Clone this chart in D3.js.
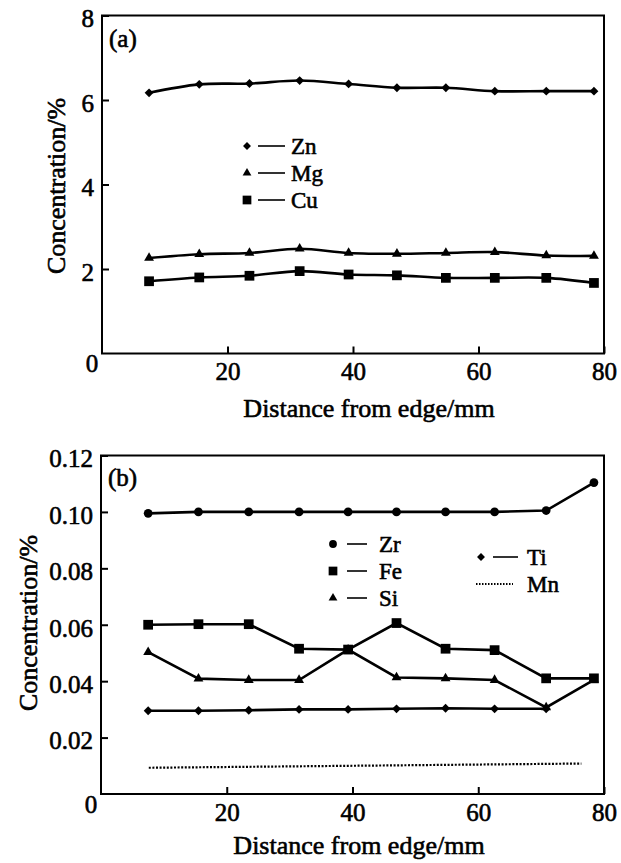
<!DOCTYPE html>
<html>
<head>
<meta charset="utf-8">
<script src="https://cdn.jsdelivr.net/npm/d3@7"></script>
<style>
  body { margin: 0; background: #fff; }
</style>
</head>
<body>
<svg id="chart" width="621" height="863"></svg>
<script>
// distance from edge (mm) of the sampling points
const dist = [7.5, 15.5, 23.5, 31.5, 39.3, 47, 54.8, 62.6, 70.8, 78.4];

// panel (a) main elements, %
const zn = [6.17, 6.37, 6.39, 6.46, 6.38, 6.29, 6.29, 6.21, 6.21, 6.21];
const mg = [2.26, 2.35, 2.38, 2.48, 2.38, 2.36, 2.38, 2.40, 2.32, 2.31];
const cu = [1.71, 1.80, 1.84, 1.95, 1.87, 1.85, 1.79, 1.79, 1.79, 1.67];

// panel (b) minor elements, %
const zr = [0.0995, 0.1, 0.1, 0.1, 0.1, 0.1, 0.1, 0.1, 0.1005, 0.1104];
const fe = [0.0600, 0.0602, 0.0602, 0.0515, 0.0512, 0.0606, 0.0515, 0.0510, 0.0410, 0.0410];
const si = [0.0503, 0.0409, 0.0404, 0.0404, 0.0512, 0.0413, 0.0410, 0.0404, 0.0307, 0.0405];
const ti = [0.0295, 0.0295, 0.0297, 0.0300, 0.0300, 0.0302, 0.0304, 0.0302, 0.0302, null];
const mnDist = [7.6, 76.4];
const mn = [0.0093, 0.0108];

const xTicks = [20, 40, 60, 80];
const yTicksA = [2, 4, 6, 8];
const yTicksB = [0.02, 0.04, 0.06, 0.08, 0.10, 0.12];

const FONT = "'Liberation Serif', Tinos, 'Times New Roman', 'DejaVu Serif', serif";
const FS = 25;
const diamond = d3.symbolDiamond2 || d3.symbolDiamond;

const svg = d3.select("#chart").style("font-family", FONT);
svg.append("rect").attr("width", 621).attr("height", 863).attr("fill", "#fff");

function txt(g, x, y, s, anchor, size) {
  return g.append("text")
    .attr("x", x).attr("y", y)
    .attr("text-anchor", anchor || "start")
    .attr("dominant-baseline", "central")
    .style("font-family", FONT)
    .style("font-size", (size || FS) + "px")
    .attr("fill", "#000")
    .attr("stroke", "#000").attr("stroke-width", 0.6)
    .text(s);
}

function panel(cfg) {
  const x = d3.scaleLinear().domain([0, 80]).range(cfg.xr);
  const y = d3.scaleLinear().domain(cfg.yd).range(cfg.yr);
  const g = svg.append("g");

  // frame
  g.append("rect")
    .attr("x", x(0)).attr("y", y(cfg.yd[1]))
    .attr("width", x(80) - x(0)).attr("height", y(cfg.yd[0]) - y(cfg.yd[1]))
    .attr("fill", "none").attr("stroke", "#000").attr("stroke-width", 2);

  // x axis, ticks pointing in
  const xa = g.append("g")
    .attr("transform", `translate(0,${y(0)})`)
    .call(d3.axisBottom(x).tickValues(xTicks).tickSizeInner(-7).tickSizeOuter(0).tickPadding(9));
  // y axis
  const ya = g.append("g")
    .attr("transform", `translate(${x(0)},0)`)
    .call(d3.axisLeft(y).tickValues(cfg.yTicks).tickFormat(cfg.fmt)
      .tickSizeInner(-7).tickSizeOuter(0).tickPadding(8));
  [xa, ya].forEach(a => {
    a.attr("font-family", null).attr("font-size", null);
    a.select(".domain").remove();
    a.selectAll("line").attr("stroke", "#000").attr("stroke-width", 2);
    a.selectAll("text")
      .style("font-family", FONT)
      .style("font-size", FS + "px")
      .attr("fill", "#000")
      .attr("stroke", "#000").attr("stroke-width", 0.6);
  });
  ya.selectAll("text").attr("dy", "0.45em");
  // shared corner zero
  txt(g, x(0) - 10, y(0) + 10, "0", "middle");

  // titles
  txt(g, cfg.xTitle[0], cfg.xTitle[1], "Distance from edge/mm", "middle", 26);
  txt(g, 0, 0, "Concentration/%", "middle", 26)
    .attr("transform", `translate(${cfg.yTitle[0]},${cfg.yTitle[1]}) rotate(-90)`);
  txt(g, x(0) + 7, cfg.tagY, cfg.tag, "start");

  // series
  cfg.series.forEach(s => {
    const pts = (s.xs || dist).map((d, i) => [d, s.values[i]]);
    const line = d3.line()
      .defined(d => d[1] != null)
      .x(d => x(d[0])).y(d => y(d[1]))
      .curve(cfg.curve);
    g.append("path")
      .attr("d", line(pts))
      .attr("fill", "none").attr("stroke", "#000")
      .attr("stroke-width", s.dotted ? 2.2 : 2.6)
      .attr("stroke-dasharray", s.dotted ? "2,1.6" : null);
    if (s.symbol) {
      g.selectAll(null).data(pts.filter(d => d[1] != null)).enter()
        .append("path")
        .attr("transform", d => `translate(${x(d[0])},${y(d[1])})`)
        .attr("d", d3.symbol().type(s.symbol).size(s.size))
        .attr("fill", "#000");
    }
    // legend entry: [marker x, y, text x, line start offset, line length]
    const L = s.legend;
    if (s.symbol) {
      g.append("path")
        .attr("transform", `translate(${L[0]},${L[1]})`)
        .attr("d", d3.symbol().type(s.symbol).size(s.size * 0.8))
        .attr("fill", "#000");
      g.append("line")
        .attr("x1", L[0] + L[3]).attr("x2", L[0] + L[3] + L[4]).attr("y1", L[1]).attr("y2", L[1])
        .attr("stroke", "#000").attr("stroke-width", 1.6);
    } else {
      g.append("line")
        .attr("x1", L[0]).attr("x2", L[0] + 37).attr("y1", L[1]).attr("y2", L[1])
        .attr("stroke", "#000").attr("stroke-width", 2).attr("stroke-dasharray", "1.5,1.5");
    }
    txt(g, L[2], L[1], s.name, "start", 23);
  });
}

panel({
  xr: [102, 604], yd: [0, 8], yr: [353.5, 15.5],
  yTicks: yTicksA, fmt: d3.format("d"),
  xTitle: [369, 408], yTitle: [56, 186],
  tag: "(a)", tagY: 38,
  curve: d3.curveCatmullRom.alpha(0.5),
  series: [
    { name: "Zn", values: zn, symbol: diamond, size: 50, legend: [247, 146, 291, 11, 27] },
    { name: "Mg", values: mg, symbol: d3.symbolTriangle, size: 42, legend: [247, 173, 291, 11, 27] },
    { name: "Cu", values: cu, symbol: d3.symbolSquare, size: 95, legend: [247, 200, 291, 11, 27] }
  ]
});

panel({
  xr: [101, 604], yd: [0, 0.12], yr: [794, 455.5],
  yTicks: yTicksB, fmt: d3.format(".2f"),
  xTitle: [359, 845], yTitle: [28, 623],
  tag: "(b)", tagY: 477,
  curve: d3.curveLinear,
  series: [
    { name: "Zr", values: zr, symbol: d3.symbolCircle, size: 60, legend: [333, 544, 379, 14, 20] },
    { name: "Fe", values: fe, symbol: d3.symbolSquare, size: 95, legend: [333, 571, 379, 14, 20] },
    { name: "Si", values: si, symbol: d3.symbolTriangle, size: 42, legend: [333, 598, 379, 14, 20] },
    { name: "Ti", values: ti, symbol: diamond, size: 50, legend: [481, 557, 527, 12, 25] },
    { name: "Mn", xs: mnDist, values: mn, dotted: true, legend: [476, 584, 527] }
  ]
});
</script>
</body>
</html>
